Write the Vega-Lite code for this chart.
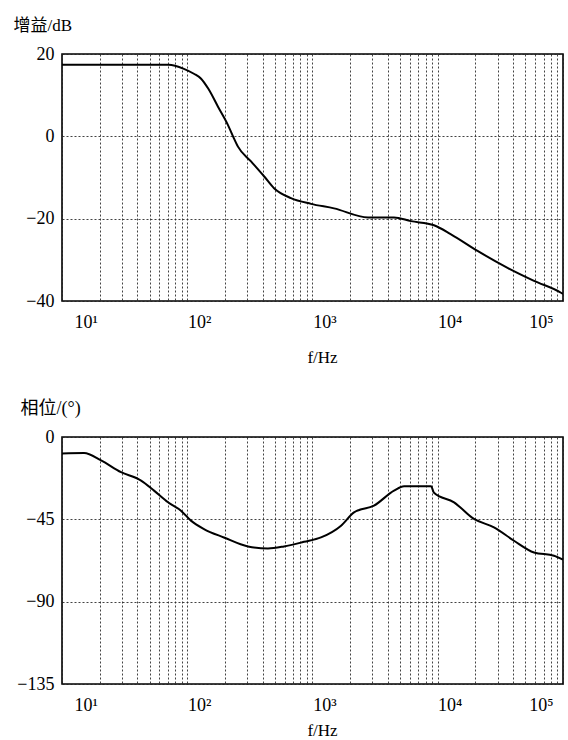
{
  "$schema": "https://vega.github.io/schema/vega-lite/v6.json",
  "padding": {"left": 12, "top": 15, "right": 0, "bottom": 0},
  "background": "white",
  "spacing": 136,
  "bounds": "flush",
  "datasets": {
    "gain": [
      {"f": 10, "g": 17.4}, {"f": 30, "g": 17.4}, {"f": 71, "g": 17.4}, {"f": 94, "g": 16.4},
      {"f": 113, "g": 15.2}, {"f": 129, "g": 14.0}, {"f": 147, "g": 11.6}, {"f": 176, "g": 7.2},
      {"f": 211, "g": 2.8}, {"f": 232, "g": 0}, {"f": 254, "g": -2.5}, {"f": 323, "g": -6.1},
      {"f": 410, "g": -9.7}, {"f": 493, "g": -12.6}, {"f": 673, "g": -15.0}, {"f": 973, "g": -16.4},
      {"f": 1486, "g": -17.5}, {"f": 2775, "g": -19.7}, {"f": 4477, "g": -19.7}, {"f": 6109, "g": -20.6},
      {"f": 9333, "g": -21.6}, {"f": 12760, "g": -23.8}, {"f": 20950, "g": -27.9}, {"f": 36370, "g": -32.0},
      {"f": 58700, "g": -35.1}, {"f": 96400, "g": -38.0}, {"f": 100000, "g": -38.3}
    ],
    "phase": [
      {"f": 10, "p": -9}, {"f": 15, "p": -8.8}, {"f": 20.5, "p": -12.8}, {"f": 29.6, "p": -19.2},
      {"f": 42.8, "p": -23.8}, {"f": 54.3, "p": -29.3}, {"f": 70.2, "p": -35.7}, {"f": 89.1, "p": -40.3},
      {"f": 107, "p": -45.7}, {"f": 136, "p": -50.3}, {"f": 196, "p": -54.9}, {"f": 305, "p": -59.8},
      {"f": 441, "p": -60.9}, {"f": 592, "p": -59.8}, {"f": 855, "p": -57.3}, {"f": 1169, "p": -54.9},
      {"f": 1690, "p": -48.5}, {"f": 2145, "p": -41.2}, {"f": 3098, "p": -37.5}, {"f": 4477, "p": -29.3},
      {"f": 5383, "p": -26.9}, {"f": 8836, "p": -26.9}, {"f": 9333, "p": -30.5}, {"f": 13490, "p": -35.7},
      {"f": 19460, "p": -44.8}, {"f": 28120, "p": -49.4}, {"f": 40640, "p": -56.7}, {"f": 58700, "p": -63.1},
      {"f": 84750, "p": -64.9}, {"f": 100000, "p": -67}
    ]
  },
  "config": {
    "view": {"stroke": "black", "strokeWidth": 1.6},
    "axis": {
      "labelFont": "Liberation Serif",
      "labelFontSize": 18,
      "labelColor": "black",
      "titleFont": "Liberation Serif, Noto Sans CJK SC",
      "titleFontSize": 17,
      "titleFontWeight": "normal",
      "titleColor": "black",
      "domain": false,
      "ticks": false,
      "labelOverlap": false,
      "labelBound": false,
      "gridColor": "#222",
      "gridDash": [2, 2],
      "gridOpacity": 0.85,
      "gridWidth": 1
    }
  },
  "vconcat": [
    {
      "width": 501,
      "height": 247,
      "data": {"name": "gain"},
      "mark": {"type": "line", "color": "black", "strokeWidth": 2, "interpolate": "monotone", "clip": true},
      "encoding": {
        "x": {
          "field": "f",
          "type": "quantitative",
          "scale": {"type": "log", "domain": [10, 100000]},
          "axis": {
            "values": [10,20,30,40,50,60,70,80,90,100,200,300,400,500,600,700,800,900,1000,2000,3000,4000,5000,6000,7000,8000,9000,10000,20000,30000,40000,50000,60000,70000,80000,90000,100000],
            "labelExpr": "datum.value == 10 ? '10¹' : datum.value == 100 ? '10²' : datum.value == 1000 ? '10³' : datum.value == 10000 ? '10⁴' : datum.value == 100000 ? '10⁵' : ''",
            "labelOffset": {"condition": {"test": "datum.value == 100000", "value": -10}, "value": 12},
            "labelBaseline": "top",
            "labelPadding": 12,
            "title": "f/Hz",
            "titleFontSize": 17,
            "titleBaseline": "top",
            "titleAlign": "center",
            "titleX": 260,
            "titleY": 48
          }
        },
        "y": {
          "field": "g",
          "type": "quantitative",
          "scale": {"domain": [-40, 20], "nice": false},
          "axis": {
            "values": [-40, -20, 0, 20],
            "labelPadding": 8,
            "title": "增益/dB",
            "titleAngle": 0,
            "titleAlign": "left",
            "titleBaseline": "top",
            "titleX": -49,
            "titleY": -37
          }
        }
      }
    },
    {
      "width": 501,
      "height": 247,
      "data": {"name": "phase"},
      "mark": {"type": "line", "color": "black", "strokeWidth": 2, "interpolate": "monotone", "clip": true},
      "encoding": {
        "x": {
          "field": "f",
          "type": "quantitative",
          "scale": {"type": "log", "domain": [10, 100000]},
          "axis": {
            "values": [10,20,30,40,50,60,70,80,90,100,200,300,400,500,600,700,800,900,1000,2000,3000,4000,5000,6000,7000,8000,9000,10000,20000,30000,40000,50000,60000,70000,80000,90000,100000],
            "labelExpr": "datum.value == 10 ? '10¹' : datum.value == 100 ? '10²' : datum.value == 1000 ? '10³' : datum.value == 10000 ? '10⁴' : datum.value == 100000 ? '10⁵' : ''",
            "labelOffset": {"condition": {"test": "datum.value == 100000", "value": -10}, "value": 12},
            "labelBaseline": "top",
            "labelPadding": 12,
            "title": "f/Hz",
            "titleFontSize": 17,
            "titleBaseline": "top",
            "titleAlign": "center",
            "titleX": 260,
            "titleY": 38
          }
        },
        "y": {
          "field": "p",
          "type": "quantitative",
          "scale": {"domain": [-135, 0], "nice": false},
          "axis": {
            "values": [-135, -90, -45, 0],
            "labelPadding": 8,
            "title": "相位/(°)",
            "titleFontSize": 18,
            "titleAngle": 0,
            "titleAlign": "left",
            "titleBaseline": "top",
            "titleX": -42,
            "titleY": -38
          }
        }
      }
    }
  ]
}
